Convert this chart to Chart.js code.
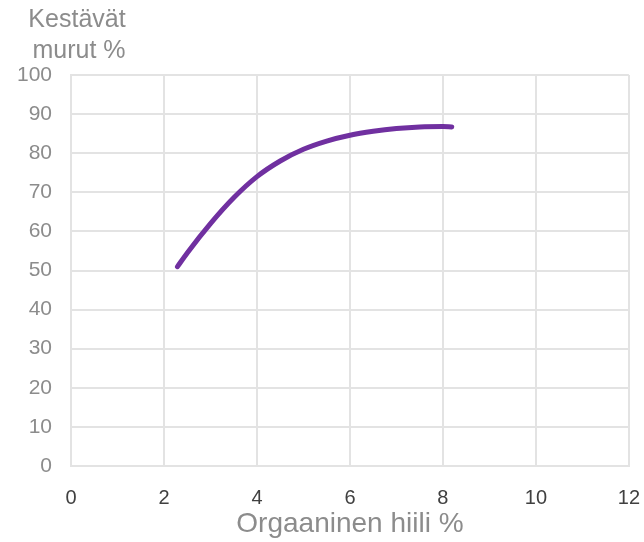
<!DOCTYPE html>
<html>
<head>
<meta charset="utf-8">
<script src="https://cdn.jsdelivr.net/npm/chart.js@4"></script>
<style>
  html, body { margin: 0; padding: 0; background: #fff; }
  #wrap { width: 644px; height: 542px; }
</style>
</head>
<body>
<div id="wrap"><canvas id="chart" width="644" height="542"></canvas></div>
<script>
// values
const carbon = [2.29, 2.5, 3, 3.5, 4, 4.5, 5, 5.5, 6, 6.5, 7, 7.5, 8, 8.19];
const crumbs = [51.0, 54.5, 62.0, 68.6, 74.0, 78.0, 81.0, 83.1, 84.6, 85.6, 86.3, 86.7, 86.8, 86.7];
const xTitle = 'Orgaaninen hiili %';
const yTitle = ['Kestävät', 'murut %'];

const grey = '#8c8c8c';
const gridColor = '#e3e3e3';

// y axis title sits above the axis, centred on two lines
const yTitlePlugin = {
    id: 'yTitle',
    afterDraw(chart) {
        const ctx = chart.ctx;
        ctx.save();
        ctx.fillStyle = grey;
        ctx.font = '25px "Liberation Sans", Arial, sans-serif';
        ctx.textAlign = 'center';
        ctx.textBaseline = 'middle';
        ctx.fillText(yTitle[0], 77, 20);
        ctx.fillText(yTitle[1], 79, 51);
        ctx.restore();
    }
};

const points = carbon.map((x, i) => ({ x: x, y: crumbs[i] }));

new Chart(document.getElementById('chart'), {
    type: 'scatter',
    data: {
        datasets: [{
            data: points,
            showLine: true,
            borderColor: '#7030a0',
            backgroundColor: '#7030a0',
            borderWidth: 5,
            borderCapStyle: 'round',
            borderJoinStyle: 'round',
            cubicInterpolationMode: 'monotone',
            pointRadius: 0,
            pointHoverRadius: 0
        }]
    },
    options: {
        responsive: false,
        animation: false,
        layout: { padding: { top: 75, right: 15, left: 0, bottom: 0 } },
        plugins: {
            legend: { display: false },
            tooltip: { enabled: false }
        },
        scales: {
            x: {
                type: 'linear',
                min: 0,
                max: 12,
                afterFit(scale) { scale.height = 76; },
                ticks: {
                    stepSize: 2,
                    color: '#404040',
                    padding: 4,
                    font: { family: '"Liberation Sans", Arial, sans-serif', size: 20 }
                },
                grid: { color: gridColor, lineWidth: 2, tickLength: 16, tickColor: 'rgba(0,0,0,0)' },
                border: { color: gridColor, width: 2 },
                title: {
                    display: true,
                    text: xTitle,
                    color: grey,
                    padding: { top: 0, bottom: 2 },
                    font: { family: '"Liberation Sans", Arial, sans-serif', size: 28, lineHeight: 1.1 }
                }
            },
            y: {
                min: 0,
                max: 100,
                afterFit(scale) { scale.width = 71; },
                ticks: {
                    stepSize: 10,
                    color: grey,
                    padding: 19,
                    font: { family: '"Liberation Sans", Arial, sans-serif', size: 21 }
                },
                grid: { color: gridColor, lineWidth: 2, drawTicks: false },
                border: { color: gridColor, width: 2 }
            }
        }
    },
    plugins: [yTitlePlugin]
});
</script>
</body>
</html>
